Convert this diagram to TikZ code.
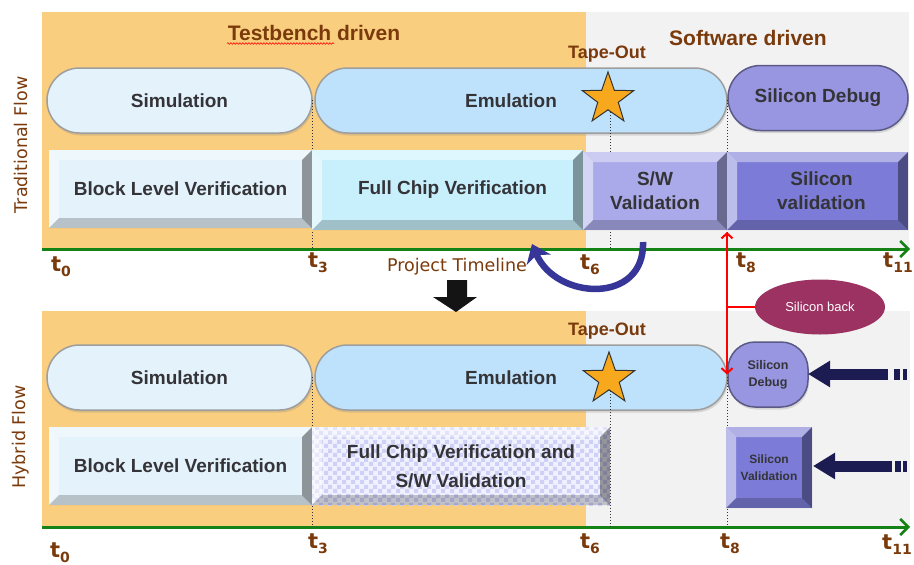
\documentclass[tikz,border=0pt]{standalone}
\usepackage{fontspec}
\setmainfont{Liberation Sans}
\newfontfamily\dejavu{DejaVu Sans}
\usetikzlibrary{shapes.geometric,shapes.misc,arrows.meta,patterns,decorations.pathmorphing,shadows}

\pgfdeclarepatternformonly{chk}{\pgfpointorigin}{\pgfqpoint{9pt}{9pt}}{\pgfqpoint{9pt}{9pt}}{%
 \pgfpathrectangle{\pgfpointorigin}{\pgfqpoint{4.5pt}{4.5pt}}%
 \pgfpathrectangle{\pgfqpoint{4.5pt}{4.5pt}}{\pgfqpoint{4.5pt}{4.5pt}}%
 \pgfusepath{fill}}

\definecolor{orng}{RGB}{250,206,127}
\definecolor{gryb}{RGB}{242,242,242}
\definecolor{brn}{RGB}{122,58,12}
\definecolor{axg}{RGB}{20,130,20}
\definecolor{txt}{RGB}{52,52,56}
\definecolor{simc}{RGB}{228,242,252}
\definecolor{emuc}{RGB}{190,226,251}
\definecolor{sdbc}{RGB}{152,150,224}
\definecolor{blkc}{RGB}{228,242,251}
\definecolor{fcc}{RGB}{200,240,252}
\definecolor{swc}{RGB}{170,170,234}
\definecolor{svc}{RGB}{124,124,216}
\definecolor{navy}{RGB}{28,28,82}
\definecolor{curv}{RGB}{54,54,153}
\definecolor{maroonc}{RGB}{155,50,98}
\definecolor{starc}{RGB}{248,168,28}
\definecolor{chkbase}{RGB}{240,241,254}
\definecolor{chkc}{RGB}{207,208,246}
\definecolor{redc}{RGB}{255,0,0}

\newcommand\mybevels{%
 \fill[white,opacity=.4] (path picture bounding box.north west) -- (path picture bounding box.north east) -- ([shift={(-10pt,-10pt)}]path picture bounding box.north east) -- ([shift={(10pt,-10pt)}]path picture bounding box.north west) -- cycle;
 \fill[white,opacity=.5] (path picture bounding box.north west) -- ([shift={(10pt,-10pt)}]path picture bounding box.north west) -- ([shift={(10pt,10pt)}]path picture bounding box.south west) -- (path picture bounding box.south west) -- cycle;
 \fill[black,opacity=.2] (path picture bounding box.south west) -- (path picture bounding box.south east) -- ([shift={(-10pt,10pt)}]path picture bounding box.south east) -- ([shift={(10pt,10pt)}]path picture bounding box.south west) -- cycle;
 \fill[black,opacity=.38] (path picture bounding box.north east) -- (path picture bounding box.south east) -- ([shift={(-10pt,10pt)}]path picture bounding box.south east) -- ([shift={(-10pt,-10pt)}]path picture bounding box.north east) -- cycle;
}

\tikzset{
 pill/.style={rounded rectangle, draw=black!38, line width=1.5pt, inner sep=0pt, text=txt,
   font=\fontsize{19}{22}\selectfont\bfseries, drop shadow={shadow xshift=1pt,shadow yshift=-2.5pt,opacity=.25}},
 bev/.style={rectangle, inner sep=0pt, text=txt, align=center,
   font=\fontsize{19}{24}\selectfont\bfseries, path picture={\mybevels}},
 hdr/.style={text=brn, font=\fontsize{21}{24}\selectfont\bfseries},
 tape/.style={text=brn, font=\fontsize{18}{20}\selectfont\bfseries},
 tlab/.style={text=brn, inner sep=0pt},
 axis/.style={draw=axg, line width=3pt, -{Straight Barb[length=8pt,width=16pt,line width=2.5pt]}},
 dots/.style={draw=black!80, line width=1pt, dotted},
 starn/.style={star, star points=5, star point ratio=2.5, minimum size=54pt, inner sep=0pt, fill=starc, draw=black!80, line width=1pt},
 side/.style={text=brn, rotate=90, font=\dejavu\fontsize{17.5}{20}\selectfont},
 navyarrow/.style={draw=navy, line width=11pt, -{Triangle[length=22pt,width=25pt]}},
 redline/.style={draw=redc, line width=2pt}
}
\newcommand\tl[1]{{\dejavu\bfseries\fontsize{21}{21}\selectfont t\raisebox{-5pt}{\fontsize{14}{14}\selectfont #1}}}

\begin{document}
\begin{tikzpicture}[x=1pt,y=-1pt]
\useasboundingbox (0,0) rectangle (914,565);
% backgrounds
\fill[orng] (42,12) rectangle (586,249);
\fill[gryb] (586,12) rectangle (909,249);
\fill[orng] (42,311) rectangle (586,527);
\fill[gryb] (586,311) rectangle (910,527);

% headers
\node[hdr] (tbd) at (314,33) {Testbench driven};
\draw[redc, line width=0.6pt, decorate, decoration={snake, amplitude=0.8pt, segment length=3pt}] (227,43.5) -- (334,43.5);
\node[hdr] (swd) at (748,38) {Software driven};
\node[tape] (to1) at (607,54) {Tape-Out};
\node[tape] (to2) at (607,331) {Tape-Out};

% side labels
\node[side] (trad) at (21,145) {Traditional Flow};
\node[side] (hyb) at (21,437) {Hybrid Flow};

% axes
\coordinate (a1s) at (42,249); \coordinate (a1e) at (910,249);
\coordinate (a2s) at (42,527); \coordinate (a2e) at (910,527);
\draw[axis] (a1s) -- (a1e);
\draw[axis] (a2s) -- (a2e);

% top pills
\node[pill, fill=simc, minimum width=265pt, minimum height=65pt] (sim1) at (179.5,100.5) {Simulation};
\node[pill, fill=emuc, minimum width=412pt, minimum height=65pt] (emu1) at (521,100.5) {\hspace*{-20pt}Emulation};
\node[pill, fill=sdbc, draw=sdbc!60!black, minimum width=180pt, minimum height=65pt] (sdb1) at (818,98) {Silicon Debug};

% bottom pills
\node[pill, fill=simc, minimum width=265pt, minimum height=65pt] (sim2) at (179.5,377.5) {Simulation};
\node[pill, fill=emuc, minimum width=412pt, minimum height=65pt] (emu2) at (521,377.5) {\hspace*{-20pt}Emulation};
\node[rectangle, rounded corners=27pt, draw=sdbc!60!black, line width=1.5pt, fill=sdbc, minimum width=80pt, minimum height=65pt,
  inner sep=0pt, align=center, text=txt, font=\fontsize{12.5}{17}\selectfont\bfseries,
  drop shadow={shadow xshift=1pt,shadow yshift=-2.5pt,opacity=.25}] (sdb2) at (768,374.5) {Silicon\\Debug};

% dotted time markers
\coordinate (d1a) at (312,100); \coordinate (d1b) at (312,249);
\coordinate (d2a) at (610,100); \coordinate (d2b) at (610,249);
\coordinate (d3a) at (727,100); \coordinate (d3b) at (727,249);
\coordinate (d4a) at (312,377); \coordinate (d4b) at (312,527);
\coordinate (d5a) at (610,379); \coordinate (d5b) at (610,527);
\coordinate (d6a) at (727,377); \coordinate (d6b) at (727,527);
\foreach \a/\b in {d1a/d1b,d2a/d2b,d3a/d3b,d4a/d4b,d5a/d5b,d6a/d6b} \draw[dots] (\a) -- (\b);

% stars
\node[starn] (st1) at (608,99) {};
\node[starn] (st2) at (609,379) {};

% top boxes
\node[bev, fill=blkc, minimum width=263pt, minimum height=78pt] (blk1) at (180.5,189) {Block Level Verification};
\node[bev, fill=fcc, minimum width=271pt, minimum height=80pt] (fc1) at (447.5,190) {\hspace{10pt}Full Chip Verification};
\node[bev, fill=swc, minimum width=144pt, minimum height=78pt] (sw1) at (655,191) {S/W\\Validation};
\node[bev, fill=svc, minimum width=181pt, minimum height=78pt] (sv1) at (817.5,191) {\hspace{8pt}Silicon\\\hspace{8pt}validation};

% bottom boxes
\node[bev, fill=blkc, minimum width=263pt, minimum height=78pt] (blk2) at (180.5,466) {Block Level Verification};
\node[rectangle, inner sep=0pt, text=txt, align=center, font=\fontsize{19}{29}\selectfont\bfseries, fill=chkbase,
  minimum width=298pt, minimum height=78pt,
  path picture={\fill[pattern=chk, pattern color=chkc] (path picture bounding box.south west) rectangle (path picture bounding box.north east); \mybevels}] (fc2) at (461,466) {Full Chip Verification and\\S/W Validation};
\node[bev, fill=svc, minimum width=86pt, minimum height=81pt, font=\fontsize{12}{17}\selectfont\bfseries] (sv2) at (769,467.5) {Silicon\\Validation};

% time labels
\node[tlab] (t0a) at (61,267) {\tl{0}};
\node[tlab] (t3a) at (318,263) {\tl{3}};
\node[tlab] (t6a) at (590,265) {\tl{6}};
\node[tlab] (t8a) at (746,263) {\tl{8}};
\node[tlab] (t11a) at (898,263) {\tl{11}};
\node[tlab] (t0b) at (60,553) {\tl{0}};
\node[tlab] (t3b) at (318,544) {\tl{3}};
\node[tlab] (t6b) at (590,544) {\tl{6}};
\node[tlab] (t8b) at (730,544) {\tl{8}};
\node[tlab] (t11b) at (897,545) {\tl{11}};

% project timeline + down arrow
\node[text=brn, font=\dejavu\fontsize{17.5}{20}\selectfont] (pt) at (457,267) {Project Timeline};
\fill[black!92] (447,280) -- (467,280) -- (467,297) -- (477,297) -- (456,312) -- (433,297) -- (447,297) -- cycle;

% curved blue arrow
\coordinate (cs) at (643,242);
\coordinate (ce) at (532,244);
\draw[curv, line width=6.5pt, -{Stealth[length=17pt,width=26pt,inset=5pt]}] (cs) .. controls (645,305) and (556,300) .. (ce);

% silicon back
\node[ellipse, fill=maroonc, minimum width=130pt, minimum height=55pt, inner sep=0pt, text=white,
  font=\fontsize{13}{15}\selectfont] (sb) at (820,307) {Silicon back};
\coordinate (j) at (727,307);
\coordinate (t8top) at (727,232);
\draw[redline] (sb.west) -- (j);
\draw[redline, -{Straight Barb[length=5pt,width=11pt,line width=2pt]}] (j) -- (t8top);
\draw[redline, -{Straight Barb[length=5pt,width=11pt,line width=2pt]}] (j) -- (j |- sdb2.west);

% navy arrows
\coordinate (n1s) at (888,374); \coordinate (n1e) at (808,374);
\coordinate (n2s) at (892,466); \coordinate (n2e) at (813,466);
\draw[navyarrow] (n1s) -- (n1e);
\draw[navyarrow] (n2s) -- (n2e);
\fill[navy] (894,368.5) rectangle (900,379.5);
\fill[navy] (903,368.5) rectangle (907,379.5);
\fill[navy] (895,460.5) rectangle (901,471.5);
\fill[navy] (903,460.5) rectangle (907,471.5);
\end{tikzpicture}
\end{document}
